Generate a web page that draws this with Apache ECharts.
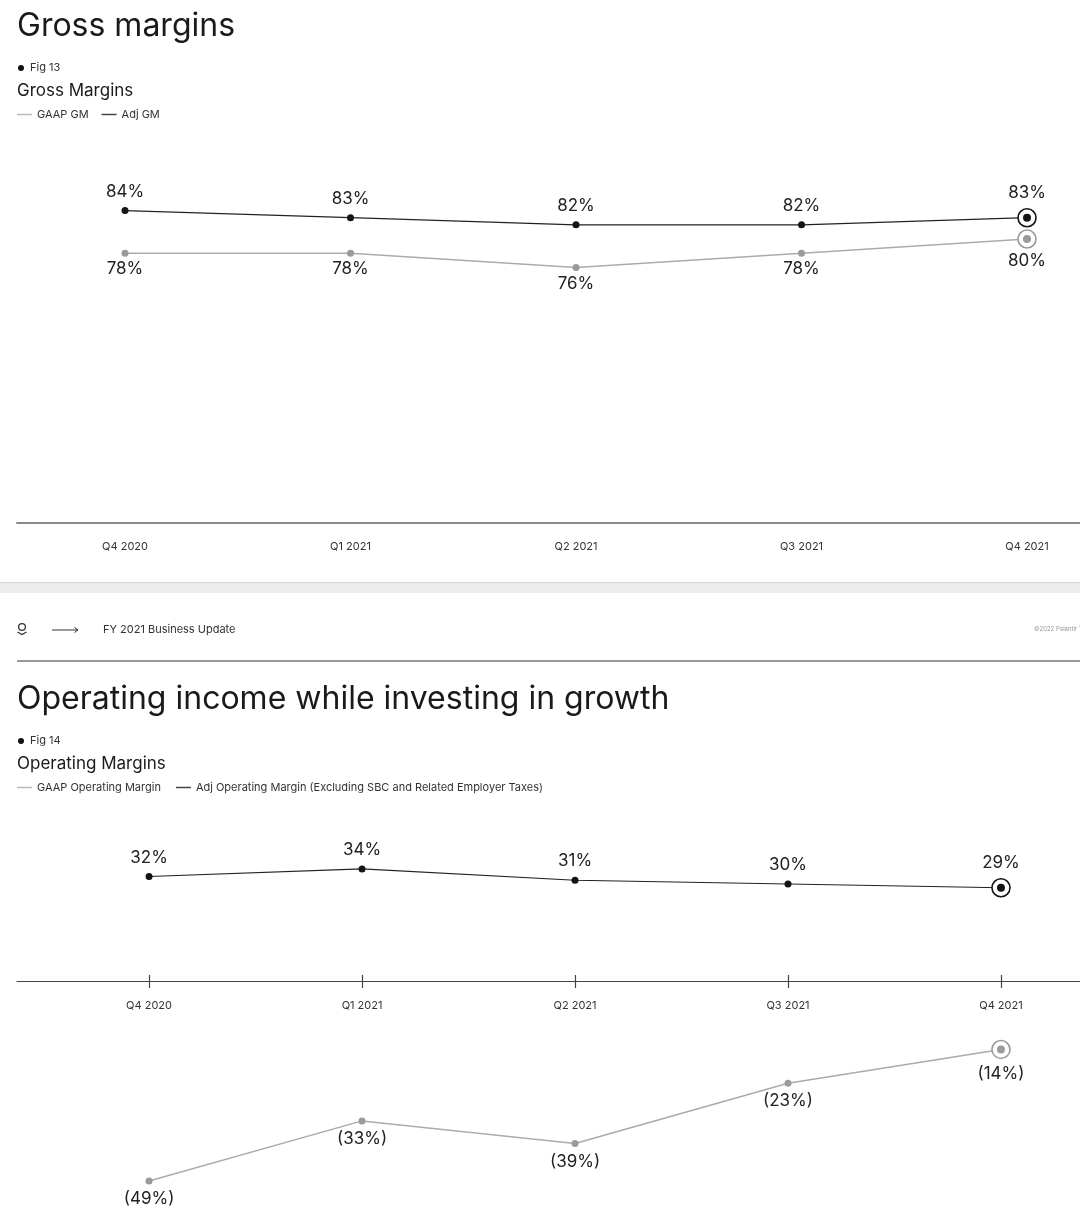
<!DOCTYPE html>
<html>
<head>
<meta charset="utf-8">
<title>Gross margins / Operating margins</title>
<script src="https://cdn.jsdelivr.net/npm/echarts@6/dist/echarts.min.js"></script>
<style>
  html, body { margin: 0; padding: 0; background: #fff; }
  #chart { width: 1080px; height: 1232px; }
</style>
</head>
<body>
<div id="chart"></div>
<script>
// quarters shared by both figures
var quarters = ['Q4 2020', 'Q1 2021', 'Q2 2021', 'Q3 2021', 'Q4 2021'];
var tickIdx = [0, 1, 2, 3, 4];
// Fig 13 - gross margins (%)
var gaapGM = [78, 78, 76, 78, 80];
var adjGM = [84, 83, 82, 82, 83];
// Fig 14 - operating margins (%)
var gaapOM = [-49, -33, -39, -23, -14];
var adjOM = [32, 34, 31, 30, 29];

var FONT = 'Inter, "Noto Sans", sans-serif';
var DARK = '#141414';
var GREY = '#9a9a9a';

// turn a value list into points, last quarter gets the ring marker
function pts(arr, ring) {
  return arr.map(function (v, i) {
    var p = { value: [i, v] };
    if (i === arr.length - 1) {
      p.symbolSize = 18;
      p.itemStyle = { color: '#fff', borderColor: ring, borderWidth: 1.6 };
    }
    return p;
  });
}

function pct(p) {
  var v = p.value[1];
  return v < 0 ? '(' + (-v) + '%)' : v + '%';
}

function lineSeries(name, arr, color, lineColor, width, pos, xi, dist) {
  return {
    name: name,
    type: 'line',
    xAxisIndex: xi,
    yAxisIndex: xi,
    data: pts(arr, color),
    symbol: 'circle',
    symbolSize: 7,
    showAllSymbol: true,
    itemStyle: { color: color },
    lineStyle: { color: lineColor, width: width },
    label: {
      show: true,
      position: pos,
      distance: dist,
      formatter: pct,
      color: '#222',
      fontSize: 17,
      fontFamily: FONT
    },
    markPoint: {
      symbol: 'circle',
      symbolSize: 8,
      silent: true,
      itemStyle: { color: color },
      label: { show: false },
      data: [{ coord: [arr.length - 1, arr[arr.length - 1]] }]
    },
    animation: false
  };
}

function xLabel(v) { return quarters[Math.round(v)]; }

var smallTxt = { fontSize: 11, fontFamily: FONT, color: '#333' };

var myChart = echarts.init(document.getElementById('chart'));
var option = {
  backgroundColor: '#fff',
  animation: false,
  grid: [
    { left: 17, right: 0, top: 97, height: 426 },
    { left: 17, right: 0, top: 827.6, height: 394.8 },
    // strip ending on the fig 14 axis, only carries the upper half of its ticks
    { left: 17, right: 0, top: 900, height: 81 }
  ],
  legend: [
    {
      left: 17, top: 109, padding: 0, icon: 'rect', itemWidth: 15, itemHeight: 1.5, itemGap: 13,
      textStyle: smallTxt,
      data: [
        { name: 'GAAP GM', itemStyle: { color: '#bbb' } },
        { name: 'Adj GM', itemStyle: { color: '#444' } }
      ]
    },
    {
      left: 17, top: 782, padding: 0, icon: 'rect', itemWidth: 15, itemHeight: 1.5, itemGap: 15,
      textStyle: smallTxt,
      data: [
        { name: 'GAAP Operating Margin', itemStyle: { color: '#bbb' } },
        { name: 'Adj Operating Margin (Excluding SBC and Related Employer Taxes)', itemStyle: { color: '#444' } }
      ]
    }
  ],
  xAxis: [
    {
      gridIndex: 0, type: 'value', min: -0.479, max: 4.235,
      axisLine: { onZero: false, lineStyle: { color: '#8a8a8a', width: 2 } },
      axisTick: { show: false },
      splitLine: { show: false },
      axisLabel: Object.assign({ margin: 18, customValues: tickIdx, formatter: xLabel }, smallTxt)
    },
    {
      gridIndex: 1, type: 'value', min: -0.62, max: 4.371, offset: -241.4,
      axisLine: { onZero: false, lineStyle: { color: '#444', width: 1.2 } },
      axisTick: { show: true, length: 7, customValues: tickIdx, lineStyle: { color: '#444', width: 1.2 } },
      splitLine: { show: false },
      axisLabel: Object.assign({ margin: 19, customValues: tickIdx, formatter: xLabel }, smallTxt)
    },
    {
      gridIndex: 2, type: 'value', min: -0.62, max: 4.371,
      axisLine: { show: false, onZero: false },
      axisTick: { show: true, inside: true, length: 6, customValues: tickIdx, lineStyle: { color: '#444', width: 1.2 } },
      splitLine: { show: false },
      axisLabel: { show: false }
    }
  ],
  yAxis: [
    { gridIndex: 0, type: 'value', min: 40, max: 100, show: false, splitLine: { show: false } },
    { gridIndex: 1, type: 'value', min: -60, max: 45, show: false, splitLine: { show: false } },
    { gridIndex: 2, type: 'value', min: 0, max: 1, show: false, splitLine: { show: false } }
  ],
  series: [
    lineSeries('GAAP GM', gaapGM, GREY, '#ababab', 1.5, 'bottom', 0, 4),
    lineSeries('Adj GM', adjGM, DARK, '#222', 1.2, 'top', 0, 7),
    lineSeries('GAAP Operating Margin', gaapOM, GREY, '#ababab', 1.5, 'bottom', 1, 6),
    lineSeries('Adj Operating Margin (Excluding SBC and Related Employer Taxes)', adjOM, DARK, '#222', 1.2, 'top', 1, 7)
  ],
  graphic: [
    // slide 1 header
    { type: 'text', x: 17, y: 26, style: { text: 'Gross margins', font: '32px ' + FONT, fill: '#1a1a1a', verticalAlign: 'middle' } },
    { type: 'circle', shape: { cx: 21, cy: 68, r: 3 }, style: { fill: '#111' } },
    { type: 'text', x: 30, y: 68, style: { text: 'Fig 13', font: '11px ' + FONT, fill: '#333', verticalAlign: 'middle' } },
    { type: 'text', x: 17, y: 91, style: { text: 'Gross Margins', font: '17px ' + FONT, fill: '#1a1a1a', verticalAlign: 'middle' } },
    // gap between the two slides
    { type: 'rect', shape: { x: 0, y: 582, width: 1080, height: 11 }, style: { fill: '#ececec' } },
    { type: 'line', shape: { x1: 0, y1: 582.5, x2: 1080, y2: 582.5 }, style: { stroke: '#d6d6d6', lineWidth: 1 } },
    // slide 2 top bar
    { type: 'circle', shape: { cx: 22, cy: 627, r: 3.4 }, style: { fill: 'none', stroke: '#333', lineWidth: 1.3 } },
    { type: 'polyline', shape: { points: [[17.5, 632], [22, 634.5], [26.5, 632]] }, style: { fill: 'none', stroke: '#333', lineWidth: 1.3 } },
    { type: 'line', shape: { x1: 52, y1: 630, x2: 78, y2: 630 }, style: { stroke: '#333', lineWidth: 1 } },
    { type: 'polyline', shape: { points: [[74.5, 627.5], [78, 630], [74.5, 632.5]] }, style: { fill: 'none', stroke: '#333', lineWidth: 1 } },
    { type: 'text', x: 103, y: 630, style: { text: 'FY 2021 Business Update', font: '11px ' + FONT, fill: '#333', verticalAlign: 'middle' } },
    { type: 'text', x: 1034, y: 629, style: { text: '\u00a92022 Palantir Technologies Inc.', font: '6px ' + FONT, fill: '#999', verticalAlign: 'middle' } },
    { type: 'line', shape: { x1: 17, y1: 661, x2: 1080, y2: 661 }, style: { stroke: '#777', lineWidth: 1.5 } },
    // slide 2 header
    { type: 'text', x: 17, y: 699, style: { text: 'Operating income while investing in growth', font: '32px ' + FONT, fill: '#1a1a1a', verticalAlign: 'middle' } },
    { type: 'circle', shape: { cx: 21, cy: 741, r: 3 }, style: { fill: '#111' } },
    { type: 'text', x: 30, y: 741, style: { text: 'Fig 14', font: '11px ' + FONT, fill: '#333', verticalAlign: 'middle' } },
    { type: 'text', x: 17, y: 764, style: { text: 'Operating Margins', font: '17px ' + FONT, fill: '#1a1a1a', verticalAlign: 'middle' } }
  ]
};
myChart.setOption(option);
window.onresize = myChart.resize;
</script>
</body>
</html>
